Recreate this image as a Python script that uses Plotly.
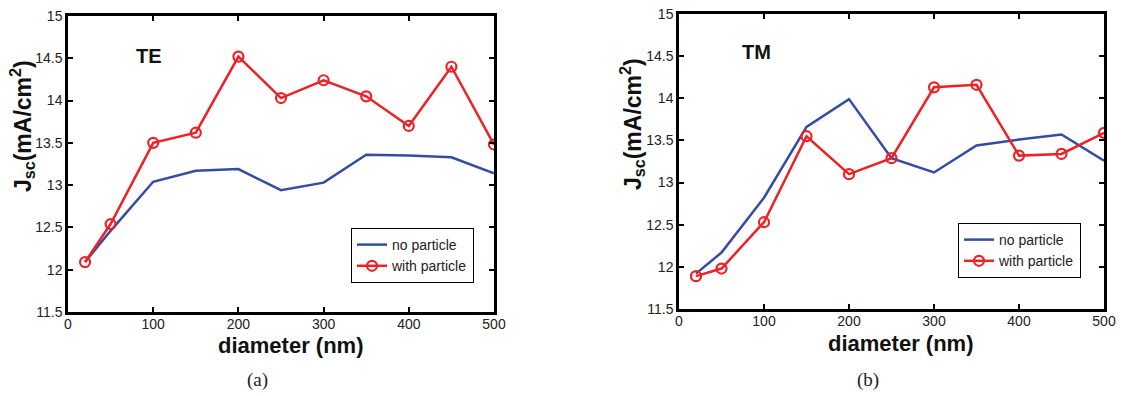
import plotly.graph_objects as go

# Particle diameter sweep (nm)
diameter = [20, 50, 100, 150, 200, 250, 300, 350, 400, 450, 500]

# Short-circuit current density Jsc (mA/cm^2), TE polarisation
te_no_particle = [12.09, 12.46, 13.04, 13.17, 13.19, 12.94, 13.03, 13.36, 13.35, 13.33, 13.14]
te_with_particle = [12.09, 12.54, 13.50, 13.62, 14.52, 14.03, 14.24, 14.05, 13.70, 14.40, 13.48]

# Short-circuit current density Jsc (mA/cm^2), TM polarisation
tm_no_particle = [11.92, 12.17, 12.82, 13.66, 13.99, 13.29, 13.12, 13.44, 13.51, 13.57, 13.26]
tm_with_particle = [11.89, 11.98, 12.53, 13.55, 13.10, 13.29, 14.13, 14.16, 13.32, 13.34, 13.59]

x_ticks = [0, 100, 200, 300, 400, 500]
y_ticks = [11.5, 12, 12.5, 13, 13.5, 14, 14.5, 15]

W, H = 1123, 396
BLUE = "rgb(52,76,163)"
RED = "rgb(236,34,39)"
SANS = "Liberation Sans, Arial, sans-serif"
SERIF = "Liberation Serif, serif"

fig = go.Figure()

panels = [
    ("x", "y", "legend", te_no_particle, te_with_particle),
    ("x2", "y2", "legend2", tm_no_particle, tm_with_particle),
]
for xa, ya, lg, no_p, with_p in panels:
    fig.add_trace(go.Scatter(
        x=diameter, y=no_p, name="no particle", mode="lines",
        line=dict(color=BLUE, width=2.5), xaxis=xa, yaxis=ya, legend=lg,
    ))
    fig.add_trace(go.Scatter(
        x=diameter, y=with_p, name="with particle", mode="lines+markers",
        line=dict(color=RED, width=2.5),
        marker=dict(symbol="circle-open", size=10, color=RED, line=dict(width=2.2)),
        xaxis=xa, yaxis=ya, legend=lg,
    ))

def px_x(p):
    return p / W

def px_y(p):
    return 1 - p / H

axis_common = dict(
    showline=True, linecolor="black", linewidth=2.5, mirror="ticks",
    ticks="inside", ticklen=5, tickwidth=1.5, tickcolor="black",
    showgrid=False, zeroline=False, automargin=False,
    tickfont=dict(family=SANS, size=14, color="#222"),
)

legend_style = dict(
    xanchor="left", yanchor="top", bgcolor="white", bordercolor="black",
    borderwidth=1, font=dict(family=SANS, size=14, color="#222"),
    tracegroupgap=0, itemwidth=30,
)

YTITLE = "<b>J<sub>sc</sub>(mA/cm<sup>2</sup>)</b>"
XTITLE = "<b>diameter (nm)</b>"

def text_ann(text, x, y, size, family=SANS, angle=0, color="#111"):
    return dict(text=text, x=px_x(x), y=px_y(y), xref="paper", yref="paper",
                xanchor="center", yanchor="middle", showarrow=False,
                textangle=angle, font=dict(family=family, size=size, color=color))

fig.update_layout(
    width=W, height=H,
    margin=dict(l=0, r=0, t=0, b=0),
    paper_bgcolor="white", plot_bgcolor="white",
    showlegend=True,
    xaxis=dict(domain=[px_x(68), px_x(494)], range=[0, 500], tickvals=x_ticks,
               anchor="y", ticklabelstandoff=-3, **axis_common),
    yaxis=dict(domain=[px_y(312), px_y(16)], range=[11.5, 15], tickvals=y_ticks,
               ticktext=[f"{v:g}" for v in y_ticks], anchor="x", **axis_common),
    xaxis2=dict(domain=[px_x(679), px_x(1104)], range=[0, 500], tickvals=x_ticks,
                anchor="y2", ticklabelstandoff=-3, **axis_common),
    yaxis2=dict(domain=[px_y(309), px_y(14)], range=[11.5, 15], tickvals=y_ticks,
                ticktext=[f"{v:g}" for v in y_ticks], anchor="x2", **axis_common),
    legend=dict(x=px_x(351), y=px_y(228), **legend_style),
    legend2=dict(x=px_x(958), y=px_y(223), **legend_style),
    annotations=[
        # axis titles
        text_ann(XTITLE, 290, 345, 22),
        text_ann(XTITLE, 900, 343, 22),
        text_ann(YTITLE, 22, 126, 23, angle=-90),
        text_ann(YTITLE, 632, 124, 23, angle=-90),
        # polarisation labels
        text_ann("<b>TE</b>", 149, 56, 20),
        text_ann("<b>TM</b>", 757, 52, 20),
        # panel captions
        text_ann("(a)", 257, 380, 19, family=SERIF, color="#222"),
        text_ann("(b)", 868, 380, 19, family=SERIF, color="#222"),
    ],
)

fig.write_html("out.html")
